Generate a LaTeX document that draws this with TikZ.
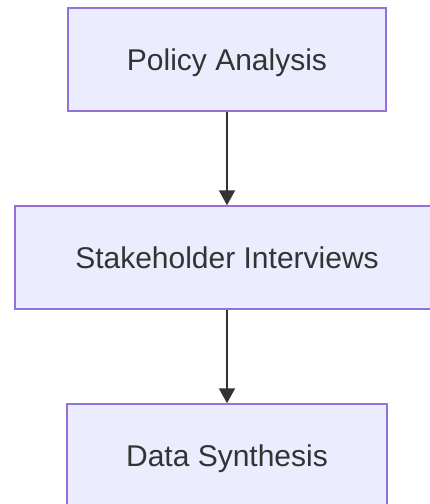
\documentclass[tikz,border=0pt]{standalone}
\usepackage{fontspec}
\setmainfont{Liberation Sans}
\usetikzlibrary{arrows.meta}
\definecolor{boxfill}{HTML}{ECECFF}
\definecolor{boxline}{HTML}{9370DB}
\definecolor{ink}{HTML}{333333}
\begin{document}
\begin{tikzpicture}[x=1pt,y=-1pt,
  stepbox/.style={draw=boxline, fill=boxfill, line width=1.5pt, minimum height=103pt,
    inner sep=0pt, text depth=0pt, text=ink, font=\fontsize{30pt}{36pt}\selectfont},
  link/.style={draw=ink, line width=2pt, -{Triangle[width=16pt,length=15pt]}}]
\useasboundingbox (0,0) rectangle (430,504);
\clip (0,0) rectangle (430,504);
\fill[white] (0,0) rectangle (430,504);
\node[stepbox, minimum width=318pt] (pa) at (227,59.5) {Policy Analysis};
\node[stepbox, minimum width=424pt] (si) at (227,257.5) {Stakeholder Interviews};
\node[stepbox, minimum width=320pt] (ds) at (227,455.5) {Data Synthesis};
\draw[link] (pa.south) -- (si.north);
\draw[link] (si.south) -- (ds.north);
\end{tikzpicture}
\end{document}
